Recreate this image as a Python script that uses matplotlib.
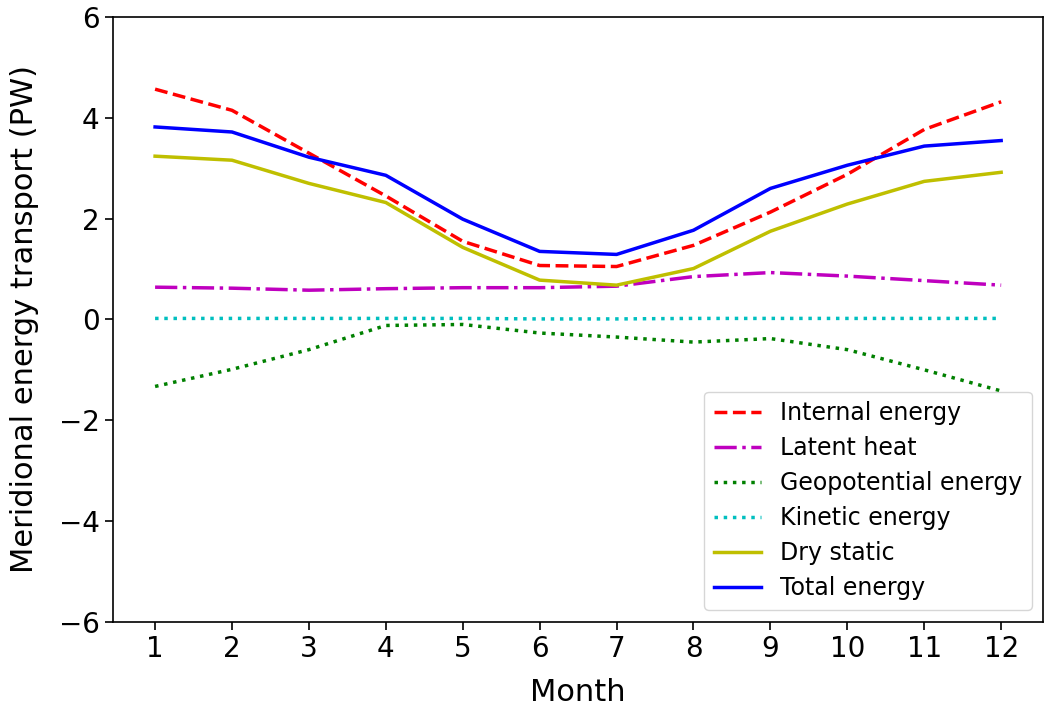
import numpy as np
import matplotlib
matplotlib.use('Agg')
import matplotlib.pyplot as plt

months = np.arange(1, 13)

internal = [4.57, 4.15, 3.30, 2.45, 1.55, 1.07, 1.05, 1.47, 2.13, 2.88, 3.77, 4.32]
latent = [0.64, 0.62, 0.58, 0.61, 0.63, 0.63, 0.66, 0.85, 0.93, 0.86, 0.77, 0.68]
geopotential = [-1.33, -0.99, -0.60, -0.12, -0.10, -0.27, -0.35, -0.45, -0.38, -0.60, -1.00, -1.42]
kinetic = [0.02, 0.02, 0.02, 0.02, 0.02, 0.01, 0.01, 0.02, 0.02, 0.02, 0.02, 0.02]
dry_static = [3.24, 3.16, 2.70, 2.32, 1.43, 0.78, 0.68, 1.01, 1.75, 2.29, 2.74, 2.92]
total = [3.82, 3.72, 3.22, 2.86, 1.99, 1.35, 1.29, 1.77, 2.60, 3.06, 3.44, 3.55]

fig = plt.figure(figsize=(10.54, 7.13), dpi=100)
# axes box: x 113..1044 px, y 17..622 px
ax = fig.add_axes([0.107, 0.128, 0.883, 0.848])

lw = 2.5
ax.plot(months, internal, 'r--', lw=lw, label='Internal energy')
ax.plot(months, latent, 'm-.', lw=lw, label='Latent heat')
ax.plot(months, geopotential, 'g:', lw=lw, label='Geopotential energy')
ax.plot(months, kinetic, 'c:', lw=lw, label='Kinetic energy')
ax.plot(months, dry_static, 'y-', lw=lw, label='Dry static')
ax.plot(months, total, 'b-', lw=lw, label='Total energy')

ax.set_xlim(0.45, 12.55)
ax.set_ylim(-6, 6)
ax.set_xticks(months)
ax.set_yticks([-6, -4, -2, 0, 2, 4, 6])
ax.tick_params(labelsize=20, length=6, width=1.2)
for s in ax.spines.values():
    s.set_linewidth(1.2)
ax.set_xlabel('Month', fontsize=22, labelpad=11)
ax.set_ylabel('Meridional energy transport (PW)', fontsize=22, labelpad=14)
ax.legend(loc='lower right', fontsize=17, labelspacing=0.47)

fig.savefig('out.png', dpi=100)
